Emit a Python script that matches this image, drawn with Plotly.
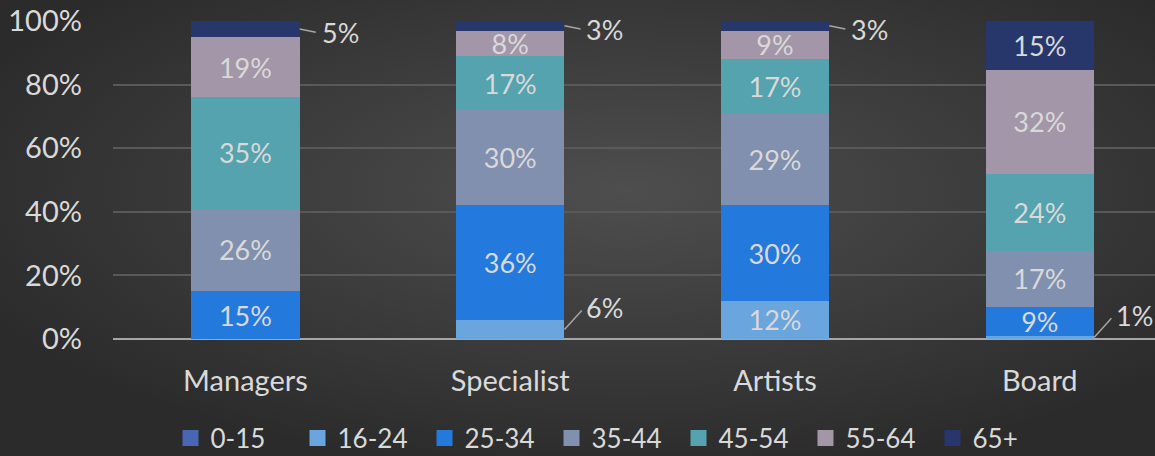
import base64
import plotly.graph_objects as go

# Share of staff by age band in each group (percent)
groups = ["Managers", "Specialist", "Artists", "Board"]
age_bands = ["0-15", "16-24", "25-34", "35-44", "45-54", "55-64", "65+"]

band_0_15 = [0, 0, 0, 0]
band_16_24 = [0, 6, 12, 1]
band_25_34 = [15, 36, 30, 9]
band_35_44 = [26, 30, 29, 17]
band_45_54 = [35, 17, 17, 24]
band_55_64 = [19, 8, 9, 32]
band_65_plus = [5, 3, 3, 15]

series = [band_0_15, band_16_24, band_25_34, band_35_44,
          band_45_54, band_55_64, band_65_plus]

y_ticks = [0, 20, 40, 60, 80, 100]

colors = ["#4767b4", "#6aa5dd", "#2479dc", "#8190ae",
          "#55a3ae", "#a396a8", "#27376b"]

FONT = "Lato"
TEXT_COL = "#d9d9d9"
SMALL = 6          # segments at or below this share get an outside label
BAR_W = 0.41

W, H = 1155, 456
ML, MR, MT, MB = 113, 0, 21, 117
PW, PH = W - ML - MR, H - MT - MB

fig = go.Figure()

for name, vals, col in zip(age_bands, series, colors):
    texts = [f"{v}%" if v > SMALL else "" for v in vals]
    fig.add_trace(go.Bar(
        name=name, x=list(range(len(groups))), y=vals,
        marker=dict(color=col, line=dict(width=0)),
        width=BAR_W, text=texts, textposition="inside",
        insidetextanchor="middle", constraintext="none",
        textfont=dict(family=FONT, size=27, color=TEXT_COL),
        hoverinfo="skip", showlegend=False,
    ))

# Legend entries drawn as square swatches
for name, col in zip(age_bands, colors):
    fig.add_trace(go.Scatter(
        name=name, x=[None], y=[None], mode="markers",
        marker=dict(symbol="square", size=16, color=col),
        hoverinfo="skip", showlegend=True,
    ))

# Outside labels with short leader lines for the thin segments
totals = [sum(s[i] for s in series) for i in range(len(groups))]
offsets = {"top": (20, 4), "bottom": (20, -22)}
for gi in range(len(groups)):
    cum = 0
    for si, vals in enumerate(series):
        v = vals[gi]
        if v <= 0:
            continue
        lo = cum / totals[gi] * 100
        cum += v
        hi = cum / totals[gi] * 100
        if v > SMALL:
            continue
        mid = (lo + hi) / 2
        ax, ay = offsets["top"] if mid > 50 else offsets["bottom"]
        fig.add_annotation(
            x=gi + BAR_W / 2, y=mid, xref="x", yref="y",
            text=f"{v}%", showarrow=True, arrowhead=0, arrowwidth=1.5,
            arrowcolor="#a6a6a6", ax=ax, ay=ay, xanchor="left",
            standoff=0, startstandoff=4,
            font=dict(family=FONT, size=27, color=TEXT_COL),
        )

# Soft radial backdrop
svg = f'''<svg xmlns="http://www.w3.org/2000/svg" width="{W}" height="{H}">
<defs><radialGradient id="g" cx="0.54" cy="0.42" r="0.62">
<stop offset="0" stop-color="#4e4e4e"/>
<stop offset="1" stop-color="#2b2b2b"/>
</radialGradient></defs>
<rect width="{W}" height="{H}" fill="url(#g)"/></svg>'''
src = "data:image/svg+xml;base64," + base64.b64encode(svg.encode()).decode()
fig.add_layout_image(
    source=src, xref="paper", yref="paper",
    x=-ML / PW, y=1 + MT / PH, sizex=W / PW, sizey=H / PH,
    xanchor="left", yanchor="top", sizing="stretch", layer="below",
)

fig.update_layout(
    width=W, height=H,
    margin=dict(l=ML, r=MR, t=MT, b=MB, autoexpand=False),
    barmode="stack", barnorm="percent",
    paper_bgcolor="#3a3a3a", plot_bgcolor="rgba(0,0,0,0)",
    font=dict(family=FONT, color=TEXT_COL),
    showlegend=True,
    legend=dict(
        orientation="h", x=(615 - ML) / PW, xanchor="center",
        y=-(438 - (H - MB)) / PH, yanchor="middle",
        font=dict(family=FONT, size=26, color=TEXT_COL),
        itemwidth=30, entrywidth=82, entrywidthmode="pixels",
        traceorder="normal", bgcolor="rgba(0,0,0,0)",
    ),
    xaxis=dict(
        tickvals=list(range(len(groups))), ticktext=groups,
        range=[-0.5, 3.435], showgrid=False, zeroline=False,
        tickfont=dict(family=FONT, size=29, color=TEXT_COL),
        ticklabelstandoff=22, ticks="", automargin=False,
    ),
    yaxis=dict(
        range=[0, 100], tickvals=y_ticks,
        ticktext=[f"{t}%" for t in y_ticks],
        showgrid=True, gridcolor="#595959", gridwidth=1.5,
        zeroline=True, zerolinecolor="#a6a6a6", zerolinewidth=2,
        tickfont=dict(family=FONT, size=29, color=TEXT_COL),
        ticklabelstandoff=30, ticks="", automargin=False,
    ),
)

fig.write_html("out.html")
